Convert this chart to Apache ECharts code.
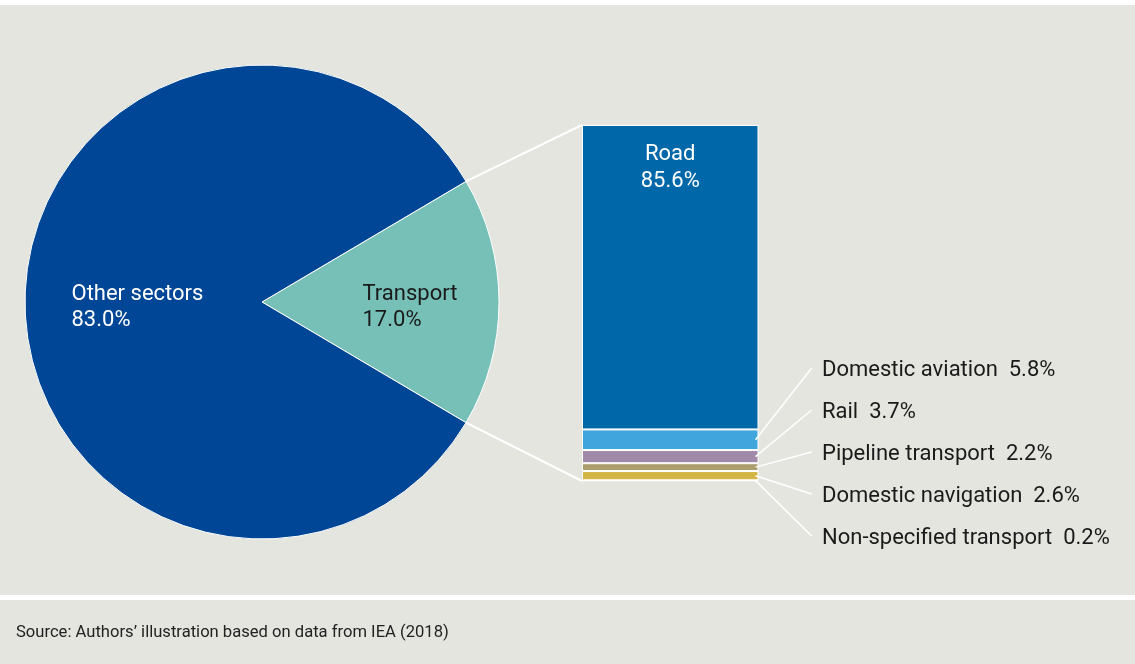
<!DOCTYPE html>
<html>
<head>
<meta charset="utf-8">
<script src="https://cdn.jsdelivr.net/npm/echarts@6/dist/echarts.min.js"></script>
<style>
html,body{margin:0;padding:0;background:#fff;}
#main{width:1135px;height:664px;}
</style>
</head>
<body>
<div id="main"></div>
<script>
// ---- data ----
const pieNames = ['Transport', 'Other sectors'];
const pieValues = [17.0, 83.0];
const transportNames = ['Road', 'Domestic aviation', 'Rail', 'Pipeline transport', 'Domestic navigation', 'Non-specified transport'];
const transportValues = [85.6, 5.8, 3.7, 2.2, 2.6, 0.2];
const sourceText = 'Source: Authors\u2019 illustration based on data from IEA (2018)';

// ---- style ----
const FONT = 'Roboto';
const pieColors = ['#76c0b8', '#004696'];
const pieTextColors = ['#1a1a1a', '#ffffff'];
const barColors = ['#0068a8', '#3fa5dc', '#a18aa9', '#ab9d6c', '#d4b444', '#8f8d9c'];
const BG = '#e5e5e0';

const chart = echarts.init(document.getElementById('main'), null, {renderer: 'canvas'});

const pieCenter = [262, 302];
const pieRadius = 237;
const transportShare = pieValues[0] / (pieValues[0] + pieValues[1]);
const startAngle = transportShare * 360 / 2;

// stacked bars: bottom series first
const barSeries = [];
for (let i = transportNames.length - 1; i >= 0; i--) {
  barSeries.push({
    type: 'bar',
    name: transportNames[i],
    stack: 'transport',
    barWidth: '100%',
    data: [transportValues[i]],
    itemStyle: {color: barColors[i], borderColor: '#ffffff', borderWidth: 1},
    label: i === 0 ? {
      show: true, position: 'insideTop', distance: 16,
      formatter: transportNames[i] + '\n' + transportValues[i].toFixed(1) + '%',
      color: '#ffffff', fontFamily: FONT, fontSize: 22, lineHeight: 27, align: 'center'
    } : {show: false},
    emphasis: {disabled: true},
    silent: true
  });
}
const total = transportValues.reduce((a, b) => a + b, 0);

chart.setOption({
  backgroundColor: BG,
  animation: false,
  grid: {left: 582, top: 125, width: 176.5, height: 356, containLabel: false},
  xAxis: {type: 'category', data: ['Transport'], show: false},
  yAxis: {type: 'value', min: 0, max: total, show: false},
  series: [
    {
      type: 'pie',
      center: pieCenter,
      radius: pieRadius,
      startAngle: startAngle,
      clockwise: true,
      silent: true,
      emphasis: {disabled: true},
      itemStyle: {borderColor: '#ffffff', borderWidth: 1},
      label: {show: false},
      labelLine: {show: false},
      data: pieNames.map((n, i) => ({
        name: n, value: pieValues[i],
        itemStyle: {color: pieColors[i]}
      }))
    },
    ...barSeries
  ]
});

// ---- connectors & labels computed from the library's geometry ----
const rect = chart.getModel().getComponent('grid', 0).coordinateSystem.getRect();
const toPx = (v) => chart.convertToPixel({xAxisIndex: 0, yAxisIndex: 0}, [0, v])[1];
const rad = startAngle * Math.PI / 180;
const pTop = [pieCenter[0] + pieRadius * Math.cos(rad), pieCenter[1] - pieRadius * Math.sin(rad)];
const pBot = [pieCenter[0] + pieRadius * Math.cos(rad), pieCenter[1] + pieRadius * Math.sin(rad)];

const graphics = [
  {type: 'rect', shape: {x: 0, y: 0, width: 1135, height: 5}, style: {fill: '#ffffff'}, z: 0},
  {type: 'rect', shape: {x: 0, y: 595, width: 1135, height: 5}, style: {fill: '#ffffff'}, z: 0},
  {type: 'line', shape: {x1: pTop[0], y1: pTop[1], x2: rect.x, y2: rect.y}, style: {stroke: '#ffffff', lineWidth: 2}, z: 10},
  {type: 'line', shape: {x1: pBot[0], y1: pBot[1], x2: rect.x, y2: rect.y + rect.height}, style: {stroke: '#ffffff', lineWidth: 2}, z: 10},
  {type: 'text', x: 16, y: 633, style: {text: sourceText, fill: '#222222', font: '16.6px ' + FONT, verticalAlign: 'middle'}, z: 10}
];

// pie labels: anchored at half radius on each slice's mid-angle, left-aligned
const pieTextOffsets = [-18, -72];
let acc = startAngle;
const sumPie = pieValues[0] + pieValues[1];
pieNames.forEach((n, i) => {
  const span = pieValues[i] / sumPie * 360;
  const mid = (acc - span / 2) * Math.PI / 180;
  acc -= span;
  const ax = pieCenter[0] + pieRadius / 2 * Math.cos(mid);
  const ay = pieCenter[1] - pieRadius / 2 * Math.sin(mid);
  graphics.push({
    type: 'text', x: ax + pieTextOffsets[i], y: ay + 5,
    style: {
      text: n + '\n' + pieValues[i].toFixed(1) + '%',
      fill: pieTextColors[i], font: '22px ' + FONT, lineHeight: 26,
      align: 'left', verticalAlign: 'middle'
    }, z: 10
  });
});

// cumulative positions from top (road first)
let cum = total;
const labelX = 822, labelTop = 370, labelStep = 42, lineEndX = 811.7;
for (let i = 0; i < transportNames.length; i++) {
  const top = cum, bottom = cum - transportValues[i];
  cum = bottom;
  if (i === 0) continue;
  const yMid = (toPx(top) + toPx(bottom)) / 2;
  const ly = labelTop + (i - 1) * labelStep;
  graphics.push({
    type: 'line',
    shape: {x1: rect.x + rect.width - 3, y1: yMid, x2: lineEndX, y2: ly - 2},
    style: {stroke: '#ffffff', lineWidth: 1.5}, z: 10
  });
  graphics.push({
    type: 'text', x: labelX, y: ly,
    style: {
      text: transportNames[i] + '  ' + transportValues[i].toFixed(1) + '%',
      fill: '#1a1a1a', font: '22px ' + FONT, verticalAlign: 'middle', align: 'left'
    }, z: 10
  });
}
chart.setOption({graphic: graphics});
</script>
</body>
</html>
